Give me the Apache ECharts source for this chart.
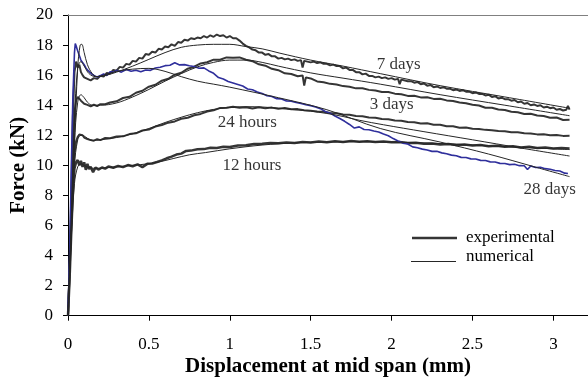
<!DOCTYPE html>
<html><head><meta charset="utf-8">
<script src="https://cdn.jsdelivr.net/npm/echarts@6/dist/echarts.min.js"></script>
<style>html,body{margin:0;padding:0;background:#fff}#c{width:588px;height:378px}</style>
</head><body><div id="c"></div><script>
const xTicks = [0, 0.5, 1, 1.5, 2, 2.5, 3];
const yTicks = [0, 2, 4, 6, 8, 10, 12, 14, 16, 18, 20];

// experimental curves [displacement mm, force kN]
const exp12h = [[0,0],[0.01,2.5],[0.02,5.5],[0.03,8.2],[0.04,9.8],[0.05,10.2],[0.06,10.35],[0.07,10.0],[0.08,10.3],[0.09,9.9],[0.1,10.2],[0.11,9.7],[0.12,10.1],[0.13,9.75],[0.14,9.9],[0.155,9.55],[0.17,9.85],[0.19,9.72],[0.21,9.86],[0.23,9.78],[0.25,9.92],[0.28,9.84],[0.31,9.96],[0.34,9.88],[0.37,10.02],[0.4,9.94],[0.43,10.06],[0.46,9.88],[0.49,10.1],[0.52,10.12],[0.55,10.22],[0.58,10.33],[0.61,10.47],[0.64,10.58],[0.67,10.72],[0.7,10.78],[0.73,10.96],[0.76,10.98],[0.8,11.07],[0.84,11.08],[0.88,11.17],[0.92,11.16],[0.96,11.23],[1.0,11.22],[1.05,11.32],[1.1,11.33],[1.15,11.42],[1.2,11.43],[1.25,11.48],[1.3,11.47],[1.35,11.52],[1.4,11.49],[1.45,11.55],[1.5,11.52],[1.55,11.58],[1.6,11.54],[1.65,11.6],[1.7,11.56],[1.75,11.62],[1.8,11.57],[1.85,11.61],[1.9,11.56],[1.95,11.59],[2.0,11.53],[2.05,11.56],[2.1,11.48],[2.15,11.5],[2.2,11.43],[2.25,11.46],[2.3,11.38],[2.35,11.42],[2.4,11.35],[2.45,11.38],[2.5,11.32],[2.55,11.35],[2.6,11.27],[2.65,11.3],[2.7,11.23],[2.75,11.27],[2.8,11.19],[2.85,11.23],[2.9,11.16],[2.95,11.19],[3.0,11.12],[3.05,11.16],[3.1,11.12]];
const exp24h = [[0,0],[0.01,2.8],[0.02,6],[0.03,9],[0.04,10.8],[0.05,11.6],[0.06,11.9],[0.07,12.05],[0.08,12.12],[0.09,12.0],[0.1,11.85],[0.12,11.75],[0.14,11.68],[0.16,11.64],[0.18,11.74],[0.2,11.68],[0.23,11.82],[0.26,11.8],[0.3,11.92],[0.34,11.93],[0.38,12.08],[0.42,12.13],[0.46,12.32],[0.5,12.38],[0.54,12.58],[0.58,12.68],[0.62,12.84],[0.66,12.92],[0.7,13.1],[0.74,13.17],[0.78,13.33],[0.82,13.42],[0.86,13.58],[0.9,13.66],[0.94,13.82],[0.98,13.83],[1.02,13.9],[1.06,13.83],[1.1,13.86],[1.14,13.78],[1.18,13.87],[1.22,13.79],[1.26,13.84],[1.3,13.76],[1.34,13.81],[1.38,13.73],[1.42,13.74],[1.46,13.67],[1.5,13.64],[1.54,13.58],[1.58,13.57],[1.62,13.48],[1.66,13.47],[1.7,13.38],[1.74,13.37],[1.78,13.28],[1.82,13.27],[1.86,13.18],[1.9,13.17],[1.94,13.08],[1.98,13.07],[2.02,12.98],[2.06,12.97],[2.1,12.88],[2.14,12.87],[2.18,12.78],[2.22,12.8],[2.26,12.7],[2.3,12.7],[2.34,12.6],[2.38,12.6],[2.42,12.5],[2.46,12.52],[2.5,12.43],[2.54,12.42],[2.58,12.36],[2.62,12.34],[2.66,12.28],[2.7,12.27],[2.74,12.2],[2.78,12.2],[2.82,12.13],[2.86,12.12],[2.9,12.06],[2.94,12.07],[2.98,12.0],[3.02,12.02],[3.06,11.96],[3.1,11.97]];
const exp3d = [[0,0],[0.01,3],[0.02,7],[0.03,11],[0.04,13.5],[0.05,14.3],[0.06,14.55],[0.07,14.5],[0.08,14.3],[0.1,14.1],[0.12,14.02],[0.14,13.92],[0.16,14.03],[0.18,13.94],[0.2,14.07],[0.23,14.06],[0.26,14.18],[0.3,14.26],[0.34,14.48],[0.38,14.56],[0.42,14.83],[0.46,14.96],[0.5,15.23],[0.54,15.36],[0.58,15.63],[0.62,15.76],[0.66,16.03],[0.7,16.16],[0.74,16.43],[0.78,16.56],[0.82,16.78],[0.86,16.86],[0.9,17.03],[0.94,17.02],[0.98,17.18],[1.02,17.15],[1.06,17.18],[1.1,17.02],[1.14,16.93],[1.18,16.72],[1.22,16.63],[1.26,16.42],[1.3,16.33],[1.34,16.12],[1.38,16.08],[1.42,15.93],[1.45,15.98],[1.46,15.3],[1.47,15.85],[1.5,15.78],[1.54,15.58],[1.58,15.53],[1.62,15.42],[1.66,15.38],[1.7,15.27],[1.74,15.23],[1.78,15.12],[1.82,15.13],[1.86,15.02],[1.9,14.98],[1.94,14.88],[1.98,14.88],[2.02,14.77],[2.06,14.73],[2.1,14.62],[2.14,14.63],[2.18,14.52],[2.22,14.53],[2.26,14.42],[2.3,14.43],[2.34,14.32],[2.38,14.28],[2.42,14.18],[2.46,14.13],[2.5,14.03],[2.54,13.98],[2.58,13.83],[2.62,13.83],[2.66,13.72],[2.7,13.68],[2.74,13.57],[2.78,13.53],[2.82,13.42],[2.86,13.43],[2.9,13.32],[2.94,13.28],[2.98,13.17],[3.02,13.18],[3.06,13.02],[3.1,13.03]];
const exp7d = [[0,0],[0.01,3.2],[0.02,8],[0.03,13.2],[0.04,16.2],[0.05,16.9],[0.06,16.5],[0.07,16.7],[0.08,16.2],[0.09,16.0],[0.1,15.85],[0.12,15.75],[0.14,15.65],[0.16,15.8],[0.18,15.75],[0.2,15.95],[0.22,15.9],[0.24,16.15],[0.26,16.1],[0.28,16.35],[0.3,16.3],[0.32,16.55],[0.34,16.5],[0.36,16.75],[0.38,16.7],[0.4,16.95],[0.42,16.9],[0.44,17.15],[0.46,17.1],[0.48,17.4],[0.5,17.35],[0.52,17.55],[0.54,17.5],[0.56,17.75],[0.58,17.7],[0.6,17.9],[0.62,17.85],[0.64,18.05],[0.66,17.95],[0.68,18.2],[0.7,18.15],[0.72,18.35],[0.74,18.3],[0.76,18.45],[0.78,18.4],[0.8,18.5],[0.82,18.45],[0.84,18.6],[0.86,18.5],[0.88,18.65],[0.9,18.55],[0.92,18.7],[0.94,18.6],[0.96,18.65],[0.98,18.5],[1.0,18.6],[1.02,18.45],[1.04,18.45],[1.06,18.3],[1.08,18.1],[1.1,17.95],[1.12,17.85],[1.14,17.7],[1.16,17.65],[1.18,17.5],[1.2,17.5],[1.22,17.35],[1.24,17.4],[1.26,17.25],[1.28,17.25],[1.3,17.1],[1.32,17.15],[1.34,17.05],[1.36,17.1],[1.38,17.0],[1.4,17.05],[1.42,16.95],[1.44,17.0],[1.45,16.5],[1.46,16.95],[1.5,16.85],[1.52,16.9],[1.54,16.8],[1.56,16.85],[1.58,16.75],[1.6,16.75],[1.62,16.65],[1.64,16.7],[1.66,16.6],[1.68,16.6],[1.7,16.45],[1.72,16.5],[1.74,16.35],[1.76,16.35],[1.78,16.2],[1.8,16.2],[1.82,16.05],[1.84,16.1],[1.86,15.95],[1.88,15.95],[1.9,15.85],[1.92,15.9],[1.94,15.8],[1.96,15.85],[1.98,15.75],[2.0,15.8],[2.02,15.7],[2.04,15.75],[2.05,15.4],[2.06,15.7],[2.1,15.6],[2.12,15.6],[2.14,15.5],[2.16,15.55],[2.18,15.4],[2.2,15.45],[2.22,15.3],[2.24,15.35],[2.26,15.2],[2.28,15.25],[2.3,15.15],[2.32,15.2],[2.34,15.1],[2.36,15.1],[2.38,15.0],[2.4,15.05],[2.42,14.95],[2.44,15.0],[2.46,14.9],[2.48,14.9],[2.5,14.8],[2.52,14.85],[2.54,14.75],[2.56,14.75],[2.58,14.65],[2.6,14.7],[2.62,14.55],[2.64,14.6],[2.66,14.45],[2.68,14.5],[2.7,14.4],[2.72,14.4],[2.74,14.3],[2.76,14.35],[2.78,14.2],[2.8,14.25],[2.82,14.1],[2.84,14.15],[2.86,14.0],[2.88,14.05],[2.9,13.95],[2.92,14.0],[2.94,13.85],[2.96,13.9],[2.98,13.8],[3.0,13.85],[3.02,13.7],[3.04,13.75],[3.06,13.65],[3.08,13.7],[3.09,13.95],[3.1,13.7]];
const exp28d = [[0,0],[0.01,4],[0.02,9.5],[0.03,14.5],[0.04,17.5],[0.045,18.1],[0.05,17.95],[0.06,17.6],[0.07,17.3],[0.08,17.0],[0.09,16.9],[0.1,16.7],[0.11,16.5],[0.12,16.35],[0.134,16.2],[0.15,16.05],[0.165,15.95],[0.18,15.88],[0.2,15.97],[0.22,16.08],[0.24,15.98],[0.26,16.22],[0.28,16.2],[0.3,16.32],[0.33,16.2],[0.36,16.37],[0.39,16.26],[0.42,16.33],[0.45,16.22],[0.48,16.34],[0.51,16.32],[0.54,16.47],[0.57,16.52],[0.6,16.63],[0.63,16.66],[0.66,16.82],[0.69,16.68],[0.72,16.7],[0.75,16.62],[0.78,16.58],[0.81,16.46],[0.84,16.48],[0.87,16.28],[0.9,16.12],[0.93,15.84],[0.96,15.74],[0.99,15.58],[1.02,15.48],[1.05,15.38],[1.08,15.28],[1.11,15.08],[1.14,15.03],[1.17,14.88],[1.2,14.78],[1.23,14.63],[1.26,14.58],[1.29,14.43],[1.32,14.42],[1.35,14.28],[1.38,14.27],[1.41,14.18],[1.44,14.12],[1.47,14.03],[1.5,13.97],[1.53,13.88],[1.56,13.77],[1.59,13.58],[1.62,13.47],[1.65,13.28],[1.68,13.12],[1.71,12.93],[1.74,12.72],[1.77,12.48],[1.8,12.56],[1.83,12.38],[1.86,12.37],[1.89,12.28],[1.92,12.22],[1.95,12.08],[1.98,11.97],[2.01,11.78],[2.04,11.62],[2.07,11.48],[2.1,11.42],[2.13,11.23],[2.16,11.17],[2.19,11.08],[2.22,11.02],[2.25,10.93],[2.28,10.94],[2.31,10.83],[2.34,10.77],[2.37,10.68],[2.4,10.64],[2.43,10.53],[2.46,10.52],[2.49,10.43],[2.52,10.42],[2.55,10.33],[2.58,10.32],[2.61,10.23],[2.64,10.22],[2.67,10.13],[2.7,10.12],[2.73,10.05],[2.76,10.07],[2.79,9.98],[2.82,9.97],[2.84,9.72],[2.86,9.96],[2.89,9.86],[2.92,9.87],[2.95,9.78],[2.98,9.74],[3.01,9.66],[3.04,9.62],[3.07,9.48],[3.09,9.46]];

// numerical curves [displacement mm, force kN]
const num12h = [[0,0],[0.02,5],[0.04,8.8],[0.06,9.9],[0.08,10.1],[0.1,10.0],[0.13,9.85],[0.17,9.8],[0.25,9.85],[0.35,9.95],[0.45,10.05],[0.55,10.2],[0.65,10.45],[0.75,10.7],[0.85,10.85],[1.0,11.1],[1.2,11.35],[1.4,11.5],[1.6,11.55],[1.8,11.58],[2.0,11.55],[2.3,11.45],[2.6,11.3],[2.9,11.15],[3.1,11.05]];
const num24h = [[0,0],[0.02,5.5],[0.04,10],[0.06,11.7],[0.08,12.0],[0.1,11.95],[0.12,11.8],[0.15,11.65],[0.2,11.7],[0.3,11.85],[0.4,12.1],[0.5,12.45],[0.6,12.85],[0.7,13.2],[0.8,13.5],[0.9,13.72],[1.0,13.85],[1.1,13.9],[1.2,13.88],[1.3,13.8],[1.4,13.7],[1.5,13.6],[1.6,13.45],[1.7,13.25],[1.8,13.0],[1.95,12.7],[2.2,12.24],[2.5,11.7],[2.8,11.15],[3.1,10.62]];
const num3d = [[0,0],[0.02,6],[0.04,11.5],[0.06,14.2],[0.08,14.7],[0.1,14.5],[0.12,14.2],[0.15,14.0],[0.2,14.0],[0.3,14.15],[0.4,14.55],[0.5,15.05],[0.6,15.6],[0.7,16.1],[0.8,16.55],[0.9,16.85],[1.0,17.0],[1.1,17.0],[1.2,16.85],[1.3,16.6],[1.5,16.15],[1.7,15.8],[1.93,15.4],[2.3,14.7],[2.7,14.0],[3.1,13.3]];
const num7d = [[0,0],[0.02,6.5],[0.04,13],[0.06,16.5],[0.08,16.9],[0.1,16.6],[0.13,16.1],[0.17,15.9],[0.22,15.95],[0.3,16.2],[0.4,16.6],[0.5,17.05],[0.6,17.5],[0.7,17.85],[0.8,18.0],[0.9,18.05],[1.0,18.05],[1.1,17.9],[1.2,17.75],[1.31,17.46],[1.5,17.0],[1.7,16.6],[1.93,16.1],[2.3,15.3],[2.7,14.55],[3.1,13.8]];
const num28d = [[0,0],[0.02,5.5],[0.04,11.5],[0.06,16.5],[0.075,18.0],[0.085,18.05],[0.1,17.5],[0.12,16.7],[0.15,16.1],[0.18,15.9],[0.22,16.0],[0.3,16.25],[0.4,16.4],[0.5,16.45],[0.6,16.25],[0.7,15.9],[0.8,15.6],[0.9,15.4],[1.0,15.2],[1.3,14.5],[1.6,13.7],[1.93,12.45],[2.3,11.55],[2.6,10.75],[2.9,9.85],[3.1,9.25]];

// curve annotations [text, displacement, force]
const curveLabels = [['7 days', 2.044, 16.68], ['3 days', 2.0, 14.02], ['24 hours', 1.108, 12.82], ['12 hours', 1.137, 9.96], ['28 days', 2.977, 8.36]];
const legendNames = ['experimental', 'numerical'];

const FONT = '"Liberation Serif", "Times New Roman", serif';
const EXP = '#353535', BLUE = '#2f2f9c', NUM = '#262626';

function expSeries(name, data, color, w) {
  return { name, type: 'line', data, showSymbol: false, symbol: 'none', lineStyle: { color, width: w }, z: 2, silent: true };
}
function numSeries(name, data) {
  return { name, type: 'line', data, showSymbol: false, symbol: 'none', smooth: 0.35, lineStyle: { color: NUM, width: 1 }, z: 3, silent: true };
}

const series = [
  expSeries('exp 12h', exp12h, EXP, 2.5),
  expSeries('exp 24h', exp24h, EXP, 2),
  expSeries('exp 3d', exp3d, EXP, 2),
  expSeries('exp 7d', exp7d, EXP, 2),
  expSeries('exp 28d', exp28d, BLUE, 1.6),
  numSeries('num 12h', num12h),
  numSeries('num 24h', num24h),
  numSeries('num 3d', num3d),
  numSeries('num 7d', num7d),
  numSeries('num 28d', num28d),
  { name: 'labels', type: 'scatter', symbolSize: 0, silent: true, z: 5,
    data: curveLabels.map(l => ({ value: [l[1], l[2]], label: { show: true, formatter: l[0], position: 'inside', color: '#000', fontFamily: FONT, fontSize: 17 } })) }
];

const chart = echarts.init(document.getElementById('c'), null, { renderer: 'canvas' });
chart.setOption({
  animation: false,
  backgroundColor: '#fff',
  grid: { left: 68, top: 15, width: 520, height: 300.7, show: false, containLabel: false, outerBoundsMode: 'none' },
  xAxis: [{
    type: 'value', min: 0, max: 3.214, interval: 0.5,
    name: 'Displacement at mid span (mm)', nameLocation: 'middle', nameGap: 40, nameMoveOverlap: false,
    nameTextStyle: { fontFamily: FONT, fontWeight: 'bold', fontSize: 21, color: '#000' },
    axisLine: { lineStyle: { color: '#000', width: 1 } },
    axisTick: { show: true, length: 5, lineStyle: { color: '#000' }, customValues: xTicks },
    axisLabel: { fontFamily: FONT, fontSize: 17, color: '#000', margin: 20, customValues: xTicks, formatter: v => String(v) },
    splitLine: { show: false }
  }, {
    type: 'value', position: 'top', min: 0, max: 3.214,
    axisLine: { show: true, lineStyle: { color: '#808080', width: 1.2 } },
    axisTick: { show: false }, axisLabel: { show: false }, splitLine: { show: false }
  }],
  yAxis: {
    type: 'value', min: 0, max: 20, interval: 2,
    name: 'Force (kN)', nameLocation: 'middle', nameGap: 39, nameRotate: 90, nameMoveOverlap: false,
    nameTextStyle: { fontFamily: FONT, fontWeight: 'bold', fontSize: 21, color: '#000' },
    axisLine: { show: true, lineStyle: { color: '#000', width: 1 } },
    axisTick: { show: true, length: 5, lineStyle: { color: '#000' }, customValues: yTicks },
    axisLabel: { fontFamily: FONT, fontSize: 17, color: '#000', margin: 15, customValues: yTicks },
    splitLine: { show: false }
  },
  graphic: [
    { type: 'line', shape: { x1: 412, y1: 238, x2: 457, y2: 238 }, style: { stroke: EXP, lineWidth: 2.5 } },
    { type: 'text', x: 466, y: 238, style: { text: legendNames[0], font: '17px ' + FONT, fill: '#000', textVerticalAlign: 'middle', verticalAlign: 'middle' } },
    { type: 'line', shape: { x1: 411, y1: 261.5, x2: 456, y2: 261.5 }, style: { stroke: NUM, lineWidth: 1 } },
    { type: 'text', x: 466, y: 257, style: { text: legendNames[1], font: '17px ' + FONT, fill: '#000', textVerticalAlign: 'middle', verticalAlign: 'middle' } }
  ],
  series
});
</script></body></html>
